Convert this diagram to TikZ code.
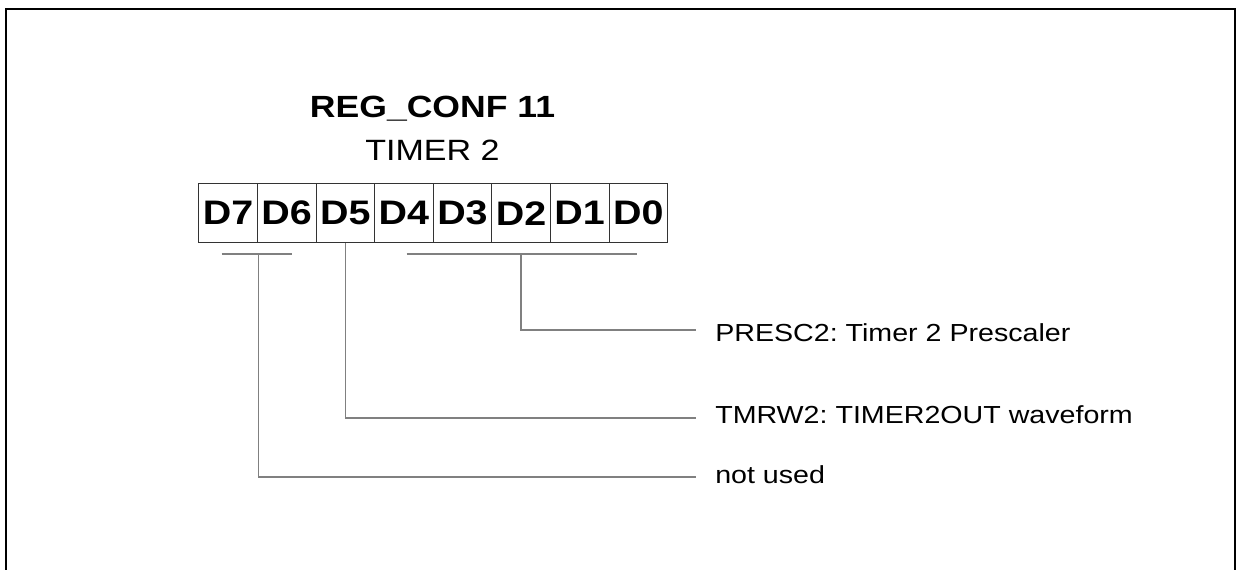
\documentclass[tikz,border=0pt]{standalone}
\usepackage{fontspec}
\setmainfont{Liberation Sans}[FakeStretch=1.16]
\frenchspacing
\begin{document}
\begin{tikzpicture}[x=0.75pt,y=-0.75pt,
  frame/.style={line width=1.4pt,black},
  cell/.style={draw=black!80,line width=0.7pt,minimum width=58.6*0.75pt,minimum height=59*0.75pt,inner sep=0pt,font=\bfseries\fontsize{25.5}{26}\selectfont,anchor=north west},
  conn/.style={draw=black!50,line width=1.1pt},
  lbl/.style={anchor=base west,inner sep=0pt,font=\fontsize{18.5}{20}\selectfont}]
\useasboundingbox (0,0) rectangle (1239,570);
\draw[frame] (6,580) -- (6,9) -- (1235,9) -- (1235,580);
\node[font=\bfseries\fontsize{23}{23}\selectfont,anchor=base] (title) at (432.5,118) {REG\_CONF 11};
\node[font=\fontsize{22}{22}\selectfont,anchor=base] (sub) at (432.5,161) {TIMER 2};
\foreach \n [count=\i from 0] in {7,6,5,4,3,2,1,0} {
  \node[cell] (d\n) at ({198.3+58.6*\i},183.3) {D\n};
}
\coordinate (b76l) at (221.7,254);
\coordinate (b76r) at (292.3,254);
\coordinate (b76m) at (258.3,254);
\coordinate (b40l) at (406.7,254);
\coordinate (b40r) at (636.7,254);
\coordinate (b40m) at (520.8,254);
\node[lbl] (presc) at (715,342) {PRESC2: Timer 2 Prescaler};
\node[lbl] (tmrw) at (715,423) {TMRW2: TIMER2OUT waveform};
\node[lbl] (nu) at (715,483) {not used};
\coordinate (e1) at (696,330);
\coordinate (e2) at (696,418);
\coordinate (e3) at (696,477);
\draw[conn] (b76l) -- (b76r);
\draw[conn] (b40l) -- (b40r);
\draw[conn] (b40m) |- (e1);
\draw[conn] (d5.south) |- (e2);
\draw[conn] (b76m) |- (e3);
\end{tikzpicture}
\end{document}
